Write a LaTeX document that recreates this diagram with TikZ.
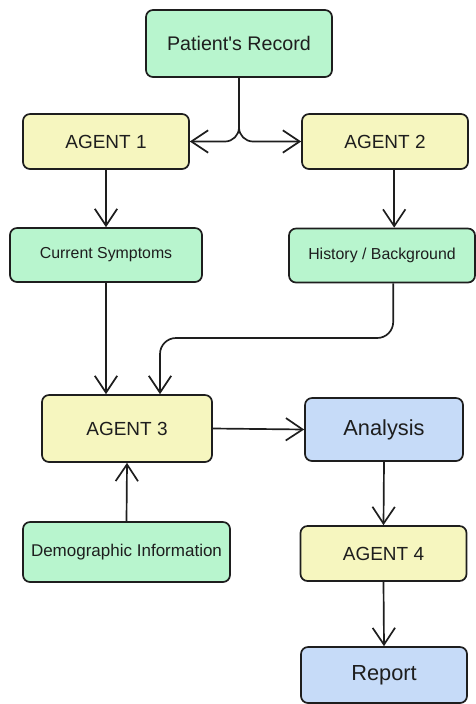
\documentclass[tikz,border=0pt]{standalone}
\usepackage{fontspec}
\setmainfont{Liberation Sans}
\usepackage{xcolor}
\usepackage{tikz}
\usetikzlibrary{positioning,arrows.meta,calc}
\definecolor{BoxGreen}{HTML}{B8F5CE}
\definecolor{BoxYellow}{HTML}{F6F6BF}
\definecolor{BoxBlue}{HTML}{C6DBF8}
\definecolor{InkDark}{HTML}{1E1E1E}

\begin{document}
\begin{tikzpicture}[
        every node/.style={text=InkDark},
        GR/.style={draw=InkDark, fill=BoxGreen, line width=1.2pt, rounded corners=5pt,
            minimum height=13.5mm, align=center, font=\fontsize{11.3}{13}\selectfont},
        AG/.style={draw=InkDark, fill=BoxYellow, line width=1.2pt, rounded corners=5pt,
            minimum height=13.75mm, minimum width=41.5mm,
            align=center, font=\fontsize{13.5}{16}\selectfont},
        BL/.style={draw=InkDark, fill=BoxBlue, line width=1.2pt, rounded corners=5pt,
            minimum height=14mm, minimum width=41.5mm,
            align=center, font=\fontsize{15.5}{18}\selectfont},
        arr/.style={-{Straight Barb[length=4.2mm,width=5.6mm]}, line width=1.2pt, InkDark},
      ]
      \useasboundingbox (0,0) rectangle (11.9,-17.6);

      % Main nodes
      \node[GR, minimum width=46.5mm, minimum height=16.75mm,
        font=\fontsize{14}{17}\selectfont] (rec) at (5.975,-1.0875) {Patient\textquotesingle s Record};

      \node[AG] (ag1) at (2.65,-3.5375) {AGENT 1};
      \node[AG] (ag2) at (9.625,-3.5375) {AGENT 2};

      \node[GR, minimum width=48mm]   (cur)  at (2.65,-6.375)   {Current Symptoms};
      \node[GR, minimum width=46.5mm] (hist) at (9.55,-6.3875)  {History / Background};

      \node[AG, minimum width=42.5mm, minimum height=16.75mm] (ag3) at (3.175,-10.7125) {AGENT 3};
      \node[BL, minimum width=39.5mm, minimum height=15.75mm] (ana) at (9.6,-10.7375) {Analysis};

      \node[GR, minimum width=51.75mm, minimum height=15mm,
        font=\fontsize{12.1}{14}\selectfont] (demo) at (3.1625,-13.8) {Demographic Information};
      \node[AG] (ag4) at (9.5875,-13.8375) {AGENT 4};

      \node[BL] (rep) at (9.6,-16.875) {Report};

      % Helper coordinate
      \coordinate (bend) at (4.0,-8.45);

      % Arrows
      \draw[arr, rounded corners=0.35cm] (rec.south) |- (ag1.east);
      \draw[arr, rounded corners=0.35cm] (rec.south) |- (ag2.west);

      \draw[arr] (ag1.south) -- (cur.north);
      \draw[arr] ([xshift=2.3mm]ag2.south) -- ([xshift=2.3mm]ag2.south |- hist.north);

      \draw[arr] (cur.south) -- (cur.south |- ag3.north);
      \draw[arr, rounded corners=0.4cm] ([xshift=2.8mm]hist.south) |- (bend) -- (bend |- ag3.north);
      \draw[arr] (demo.north) -- (ag3.south);

      \draw[arr] (ag3.east) -- (ana.west);
      \draw[arr] (ana.south) -- (ag4.north);
      \draw[arr] (ag4.south) -- (rep.north);

    \end{tikzpicture}
\end{document}
